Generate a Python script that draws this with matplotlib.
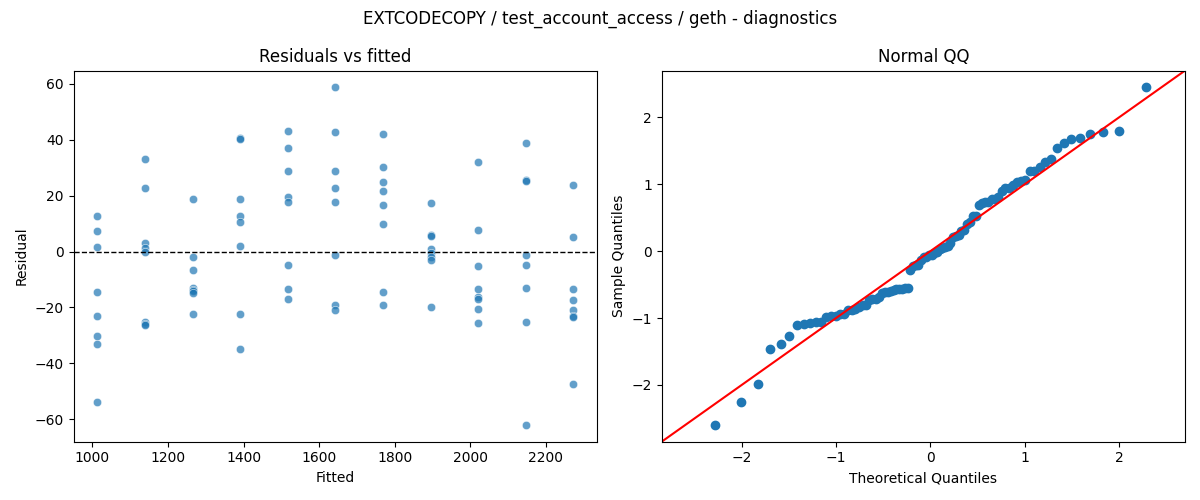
import numpy as np
import matplotlib
matplotlib.use("Agg")
import matplotlib.pyplot as plt
import seaborn as sns
from statistics import NormalDist

# fitted values (one per group) and residuals
fitted_levels = [1013, 1139, 1265, 1391, 1517, 1643, 1769, 1895, 2021, 2147, 2272]

res_1013 = [12.6, 7.3, 1.7, -14.5, -23.1, -30.1, -33.0, -53.8]
res_1139 = [33.0, 22.6, 3.1, 1.4, 0.0, -25.2, -25.8, -26.4]
res_1265 = [18.7, -2.0, -6.7, -13.0, -13.6, -14.2, -14.8, -22.4]
res_1391 = [40.7, 40.2, 18.7, 12.7, 10.5, 2.0, -22.4, -34.9]
res_1517 = [43.3, 36.9, 28.7, 19.4, 17.6, -4.9, -13.5, -17.0]
res_1643 = [58.7, 42.6, 28.7, 22.6, 17.6, -1.3, -19.0, -21.0]
res_1769 = [41.9, 30.1, 24.8, 21.5, 16.5, 9.8, -14.5, -19.2]
res_1895 = [17.3, 5.9, 5.6, 1.0, -0.4, -1.8, -3.2, -19.9]
res_2021 = [31.9, 7.6, -5.2, -13.5, -16.1, -16.8, -20.6, -25.6]
res_2147 = [38.8, 25.6, 25.3, -1.3, -4.9, -13.1, -25.2, -62.0]
res_2272 = [23.7, 5.1, -13.5, -17.4, -21.0, -22.9, -23.3, -47.4]

residual_groups = [res_1013, res_1139, res_1265, res_1391, res_1517, res_1643,
                   res_1769, res_1895, res_2021, res_2147, res_2272]

fitted = []
resid = []
for lvl, grp in zip(fitted_levels, residual_groups):
    for r in grp:
        fitted.append(lvl)
        resid.append(r)
fitted = np.array(fitted, dtype=float)
resid = np.array(resid, dtype=float)

fig, (ax1, ax2) = plt.subplots(1, 2, figsize=(12, 5), dpi=100)

# residuals vs fitted
sns.scatterplot(x=fitted, y=resid, ax=ax1, alpha=0.7)
ax1.axhline(0, color="black", linestyle="--", linewidth=1)
ax1.set_title("Residuals vs fitted")
ax1.set_xlabel("Fitted")
ax1.set_ylabel("Residual")

# normal QQ, standardised residuals against normal quantiles
n = len(resid)
sample_q = np.sort((resid - resid.mean()) / resid.std())
theo_q = np.array([NormalDist().inv_cdf(i / (n + 1.0)) for i in range(1, n + 1)])
ax2.plot(theo_q, sample_q, marker="o", linestyle="none", color="C0")
xl = ax2.get_xlim()
yl = ax2.get_ylim()
end_pts = [min(xl[0], yl[0]), max(xl[1], yl[1])]
ax2.plot(end_pts, end_pts, color="red")
ax2.set_xlim(end_pts)
ax2.set_ylim(end_pts)
ax2.set_title("Normal QQ")
ax2.set_xlabel("Theoretical Quantiles")
ax2.set_ylabel("Sample Quantiles")

fig.suptitle("EXTCODECOPY / test_account_access / geth - diagnostics")
fig.tight_layout()
fig.savefig("out.png")
plt.close(fig)
